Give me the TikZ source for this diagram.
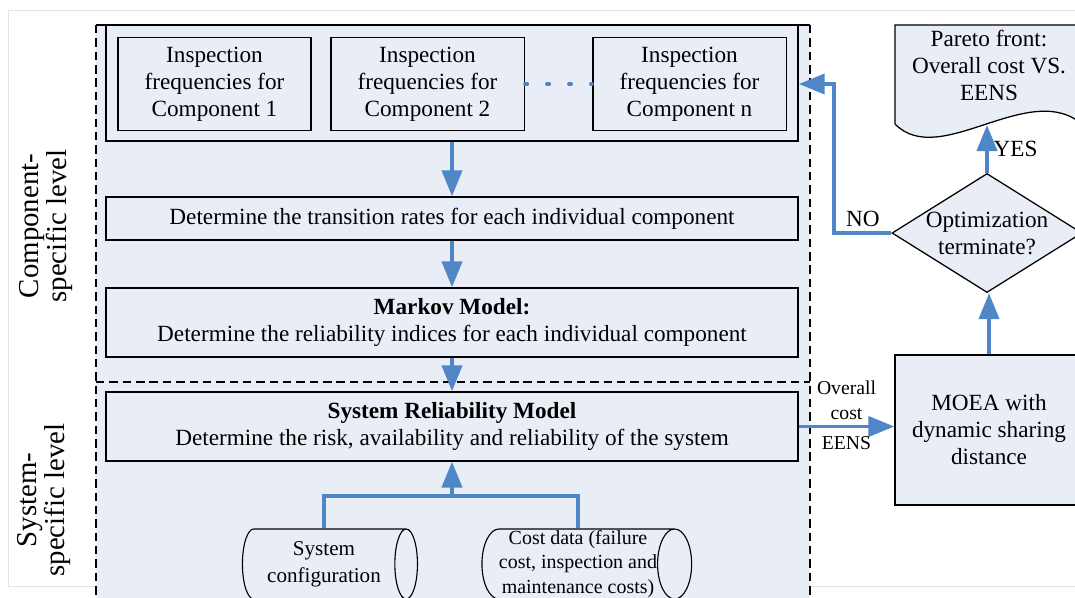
\documentclass[tikz,border=0pt]{standalone}
\usepackage{fontspec}
\setmainfont{Liberation Serif}
\usetikzlibrary{shapes.geometric, arrows.meta, calc}

\definecolor{panelblue}{RGB}{233,238,246}
\definecolor{flowblue}{RGB}{79,134,198}
\definecolor{framegray}{RGB}{228,228,228}

\newcommand{\boxfont}{\fontsize{16.5}{19.2}\selectfont}
\newcommand{\smallfont}{\fontsize{14}{17.7}\selectfont}
\newcommand{\storefont}{\fontsize{15}{19}\selectfont}
\newcommand{\costfont}{\fontsize{14.2}{17.7}\selectfont}
\newcommand{\levelfont}{\fontsize{20.5}{20}\selectfont}

\tikzset{
  stage/.style={draw, fill=panelblue, line width=0.9pt, minimum width=17.3cm, align=center, font=\boxfont},
  freq/.style={draw, line width=0.9pt, minimum width=4.83cm, minimum height=2.33cm, align=center, font=\boxfont},
  store/.style={cylinder, draw, line width=0.8pt, fill=panelblue, aspect=0.5, minimum width=1.75cm, align=center, font=\storefont, inner sep=0pt},
  decision/.style={diamond, draw, fill=panelblue, line width=0.9pt, minimum width=4.75cm, minimum height=2.975cm, inner sep=0pt},
  flow/.style={draw=flowblue, line width=2.8pt, -{Triangle[width=0.5cm, length=0.65cm]}},
  flowline/.style={draw=flowblue, line width=2.8pt},
  dotline/.style={draw=flowblue, line width=2.2pt, line cap=round, dash pattern=on 2pt off 13.6pt},
  levelline/.style={line width=0.9pt, dash pattern=on 6pt off 3.5pt},
  level/.style={rotate=90, align=center, font=\levelfont}
}

\begin{document}
\begin{tikzpicture}[x=0.025cm, y=-0.025cm]
  \useasboundingbox (0,0) rectangle (1075,597);
  \clip (0,0) rectangle (1075,597);

  % frame and level panels
  \draw[framegray] (8,10) rectangle (1100,586);
  \fill[panelblue] (96,25) rectangle (810,600);
  \draw[line width=0.9pt] (96,25) -- (810,25);
  \draw[levelline] (96,25) -- (96,600);
  \draw[levelline] (810,25) -- (810,600);
  \draw[levelline] (96,382) -- (810,382);

  \node[level] (complevel) at (46,226) {Component-\\specific level};
  \node[level] (syslevel) at (44,500) {System-\\specific level};

  % component-specific level
  \node[stage, minimum height=2.9cm] (freqs) at (452,83) {};
  \node[freq] (comp1) at (214.5,84) {Inspection\\frequencies for\\Component 1};
  \node[freq] (comp2) at (427.5,84) {Inspection\\frequencies for\\Component 2};
  \node[freq] (compn) at (689.5,84) {Inspection\\frequencies for\\Component n};
  \node[stage, minimum height=1.075cm] (rates) at (452,218.5) {Determine the transition rates for each individual component};
  \node[stage, minimum height=1.725cm] (markov) at (452,322.5) {\textbf{Markov Model:}\\Determine the reliability indices for each individual component};

  % system-specific level
  \node[stage, minimum height=1.725cm] (sysrel) at (452,426.5) {\textbf{System Reliability Model}\\Determine the risk, availability and reliability of the system};
  \node[store, minimum height=4.375cm] (config) at (324,564) {System\\configuration};
  \node[store, minimum height=5.1cm, font=\costfont] (cost) at (578,564) {Cost data (failure\\cost, inspection and\\maintenance costs)};

  % optimization loop
  \node[draw, fill=panelblue, line width=0.9pt, minimum width=4.7cm, minimum height=3.75cm, align=center, font=\boxfont] (moea) at (989,430) {MOEA with\\dynamic sharing\\distance};
  \node[decision, label={[align=center, font=\boxfont]center:Optimization\\terminate?}] (optend) at (987,233) {};
  \draw[line width=0.9pt, fill=panelblue] (895,124) -- (895,25) -- (1083,25) -- (1083,125) .. controls (1030,78) and (940,170) .. (895,124);
  \node[align=center, font=\boxfont] (pareto) at (989,65) {Pareto front:\\Overall cost VS.\\EENS};
  \coordinate (paretoend) at (989,125);

  % connectors
  \draw[dotline] (comp2.east) -- (compn.west);
  \draw[flow] (freqs) -- (rates);
  \draw[flow] (rates) -- (markov);
  \draw[flow] (markov) -- (sysrel);
  \coordinate (merge) at ($(sysrel.south)+(0,34)$);
  \draw[flowline] (config.north) |- (merge) -| (cost.north);
  \draw[flow] (merge) -- (sysrel.south);
  \draw[flow] (sysrel.east) -- (sysrel.east -| moea.west)
    node[midway, above, align=center, font=\smallfont] {Overall\\cost}
    node[midway, below=2pt, font=\smallfont] {EENS};
  \draw[flow] (moea.north) -- (moea.north |- optend.south);
  \draw[flow] (optend.north) -- (optend.north |- paretoend) node[midway, right, font=\boxfont] {YES};
  \draw[flow] (optend.west) -- ++(-57,0) node[midway, above, font=\boxfont] {NO} |- (freqs.east |- compn.east);
\end{tikzpicture}
\end{document}
